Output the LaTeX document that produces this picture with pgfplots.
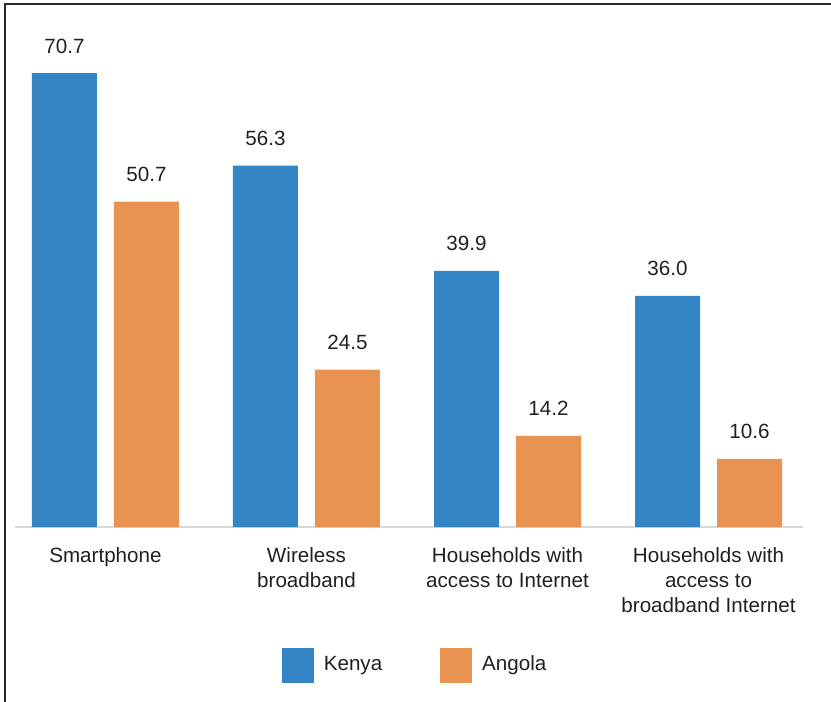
\documentclass[border=0pt]{standalone}
\usepackage{pgfplots}
\pgfplotsset{compat=1.18}
\usepackage{fontspec}
\setmainfont{Liberation Sans}
\definecolor{kenya}{RGB}{51,133,198}
\definecolor{angola}{RGB}{232,147,82}
\definecolor{txt}{RGB}{35,31,32}
\definecolor{axgray}{RGB}{215,216,220}
\newcommand{\lblfont}{\fontsize{10.3}{12.5}\selectfont}
\begin{document}
\begin{tikzpicture}
\useasboundingbox (-7.5pt,-87.5pt) rectangle (408pt,263.5pt);
\begin{axis}[
  scale only axis,
  width=394pt, height=256.8pt,
  xmin=-0.45, xmax=3.47,
  ymin=0, ymax=80,
  ybar=0pt,
  bar width=32.5pt,
  axis x line=bottom,
  axis y line=none,
  x axis line style={axgray, line width=0.7pt, -},
  xtick={0,1,2,3},
  xticklabels={Smartphone, Wireless\\broadband, Households with\\access to Internet, Households with\\access to\\broadband Internet},
  major tick length=0pt,
  xticklabel style={align=center, anchor=north, yshift=-6.6pt, font=\lblfont, text=txt},
  /pgf/number format/assume math mode=true,
  nodes near coords,
  nodes near coords style={font=\lblfont, text=txt, anchor=base, yshift=10pt,
    /pgf/number format/.cd, fixed, fixed zerofill, precision=1, assume math mode=true},
  legend style={draw=none, at={(0.509,-0.2687)}, anchor=center, font=\lblfont, text=txt,
    legend columns=2, /tikz/every even column/.append style={column sep=27pt}},
  legend image code/.code={\fill[#1] (0pt,-8.75pt) rectangle (16pt,8.75pt); \path (19pt,0pt);},
  clip=false,
]
\addplot[fill=kenya, draw=none, bar shift=-20.5pt] coordinates {(0,70.7) (1,56.3) (2,39.9) (3,36.0)};
\addplot[fill=angola, draw=none, bar shift=20.5pt] coordinates {(0,50.7) (1,24.5) (2,14.2) (3,10.6)};
\legend{Kenya, Angola}
\end{axis}
\draw[line width=1.1pt, color={rgb,255:red,40;green,40;blue,40}] (-5pt,-87.5pt) -- (-5pt,261.5pt) -- (408pt,261.5pt);
\end{tikzpicture}
\end{document}
